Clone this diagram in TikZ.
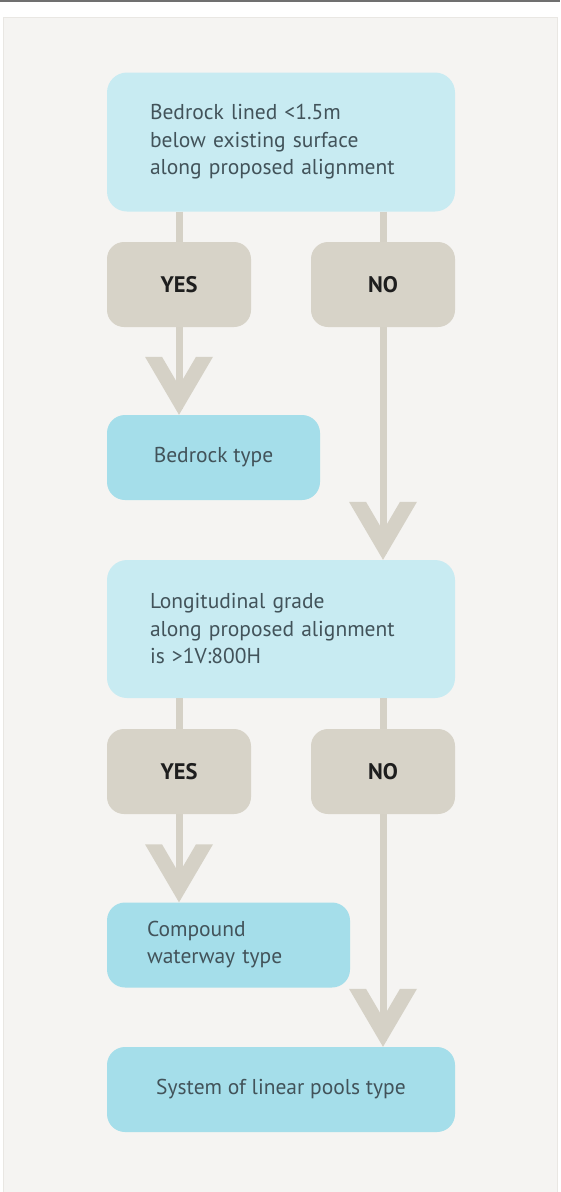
\documentclass[tikz,border=0pt]{standalone}
\usepackage{fontspec}
\setmainfont{PT Sans}
\definecolor{panelbg}{HTML}{F5F4F2}
\definecolor{paneledge}{HTML}{E9E7E3}
\definecolor{topline}{HTML}{707070}
\definecolor{qcyan}{HTML}{C8EBF2}
\definecolor{rcyan}{HTML}{A5DEEA}
\definecolor{sand}{HTML}{D7D3C8}
\definecolor{linkgray}{HTML}{D5D1C6}
\definecolor{inkgray}{HTML}{42535A}
\definecolor{nearblack}{HTML}{1E1E1E}
\tikzset{
  qbox/.style={fill=qcyan, rounded corners=20pt, minimum height=139pt,
    text width=262pt, inner xsep=43pt, align=left, text=inkgray,
    font=\fontsize{21.5}{27.5}\selectfont},
  ansbox/.style={fill=sand, rounded corners=17pt, minimum width=144pt,
    minimum height=85pt, text=nearblack, font=\bfseries\fontsize{22.5}{24}\selectfont},
  resbox/.style={fill=rcyan, rounded corners=18pt, minimum height=85pt,
    text=inkgray, font=\fontsize{21.5}{27}\selectfont},
  link/.style={draw=linkgray, line width=7pt},
  pics/chevron/.style={code={
    \fill[linkgray] (-34,-58) -- (0,0) -- (34,-58) -- (17,-58) -- (0,-29) -- (-17,-58) -- cycle;
  }}
}
\begin{document}
\begin{tikzpicture}[x=1pt, y=-1pt]
  \useasboundingbox (0,0) rectangle (560,1192);
  \fill[white] (0,0) rectangle (560,1192);
  \draw[topline, line width=1.5pt] (0,0.75) -- (560,0.75);
  \filldraw[fill=panelbg, draw=paneledge, line width=1pt] (3,17) rectangle (557,1195);

  % first question
  \node[qbox] (q1) at (281,142) {Bedrock lined <1.5m\\below existing surface\\along proposed alignment};
  \node[ansbox] (yes1) at (179,284.5) {YES};
  \node[ansbox] (no1) at (383,284.5) {NO};
  \node[resbox, minimum width=213pt] (rock) at (213.5,457.5) {Bedrock type};

  % second question
  \node[qbox, minimum height=138pt] (q2) at (281,629) {Longitudinal grade\\along proposed alignment\\is >1V:800H};
  \node[ansbox] (yes2) at (179,771.5) {YES};
  \node[ansbox] (no2) at (383,771.5) {NO};
  \node[resbox, text width=163pt, inner xsep=40pt, align=left] (comp) at (228.5,945) {Compound\\waterway type};
  \node[resbox, minimum width=348pt] (pools) at (281,1089.5) {System of linear pools type};

  \draw[link] (yes1.north |- q1.south) -- (yes1.north);
  \draw[link] (no1.north |- q1.south) -- (no1.north);
  \draw[link] (yes2.north |- q2.south) -- (yes2.north);
  \draw[link] (no2.north |- q2.south) -- (no2.north);

  \draw[link, shorten >=6pt] (yes1.south) -- (yes1.south |- rock.north);
  \draw[link, shorten >=6pt] (no1.south) -- (no1.south |- q2.north);
  \draw[link, shorten >=6pt] (yes2.south) -- (yes2.south |- comp.north);
  \draw[link, shorten >=6pt] (no2.south) -- (no2.south |- pools.north);

  \pic at (yes1.south |- rock.north) {chevron};
  \pic at (no1.south |- q2.north) {chevron};
  \pic at (yes2.south |- comp.north) {chevron};
  \pic at (no2.south |- pools.north) {chevron};
\end{tikzpicture}
\end{document}
